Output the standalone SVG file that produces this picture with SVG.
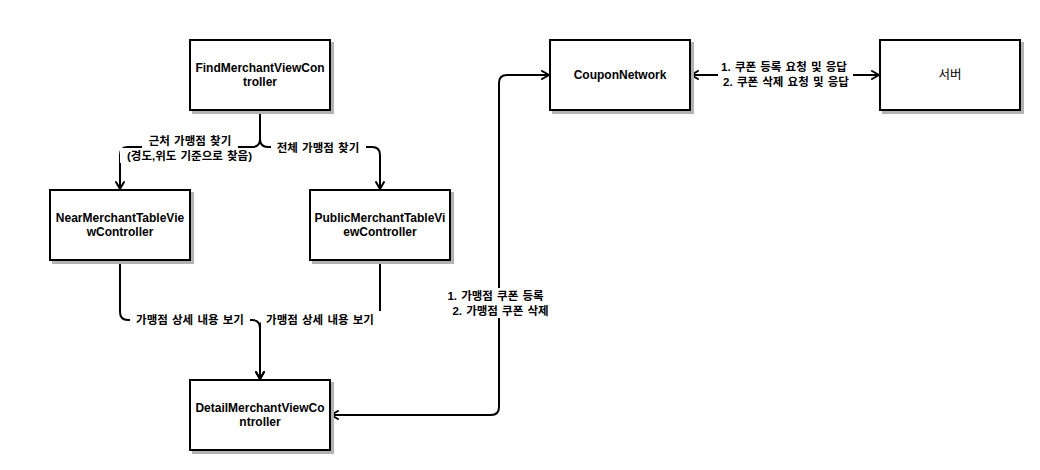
<svg xmlns="http://www.w3.org/2000/svg" width="1040" height="470" viewBox="0 0 1040 470">
<defs>
<style>
.shadow{fill:#b3b3b3;stroke:#b3b3b3;stroke-width:2}
.box{fill:#ffffff;stroke:#000000;stroke-width:2}
.nt{font-family:"Liberation Sans","Noto Sans CJK KR",Arial,sans-serif;font-size:12px;font-weight:bold;fill:#000;text-anchor:middle}
.nk{font-family:"Liberation Sans","Noto Sans CJK KR",Arial,sans-serif;font-size:12.5px;font-weight:normal;fill:#000;text-anchor:middle}
.edge{fill:none;stroke:#000000;stroke-width:2}
.lbg{fill:#ffffff;stroke:none}
.lt{font-family:"Liberation Sans","Noto Sans CJK KR",Arial,sans-serif;font-size:11.5px;font-weight:bold;fill:#000;text-anchor:middle;word-spacing:1px}
</style>
<marker id="arr" viewBox="0 0 10 10" refX="9" refY="5" markerWidth="10" markerHeight="10" markerUnits="userSpaceOnUse" orient="auto-start-reverse">
<path d="M2,1 L9,5 L2,9" fill="none" stroke="#000" stroke-width="2" stroke-linecap="round" stroke-linejoin="miter"/>
</marker>
</defs>
<rect width="1040" height="470" fill="#ffffff"/>

<g id="connectors">
<path class="edge" d="M260,110 V139 Q260,147 252,147 H128 Q120,147 120,155 V189" marker-end="url(#arr)"/>
<path class="edge" d="M260,110 V139 Q260,147 268,147 H372 Q380,147 380,155 V189" marker-end="url(#arr)"/>
<path class="edge" d="M120,260 V312 Q120,320 128,320 H252 Q260,320 260,328 V379" marker-end="url(#arr)"/>
<path class="edge" d="M380,260 V312 Q380,320 372,320 H268 Q260,320 260,328 V379" marker-end="url(#arr)"/>
<path class="edge" d="M331,415 H491 Q499,415 499,407 V83 Q499,75 507,75 H549" marker-start="url(#arr)" marker-end="url(#arr)"/>
<path class="edge" d="M691,75 H879" marker-start="url(#arr)" marker-end="url(#arr)"/>

<g id="label-near">
<rect class="lbg" x="142" y="134" width="96" height="14"/>
<rect class="lbg" x="120" y="148" width="139" height="15"/>
<text class="lt" x="190" y="145">근처 가맹점 찾기</text>
<text class="lt" x="189.5" y="160">(경도,위도 기준으로 찾음)</text>
</g>
<g id="label-all">
<rect class="lbg" x="271" y="141" width="95" height="15"/>
<text class="lt" x="318" y="152">전체 가맹점 찾기</text>
</g>
<g id="label-detail1">
<rect class="lbg" x="130" y="311" width="120" height="17"/>
<text class="lt" x="190" y="324">가맹점 상세 내용 보기</text>
</g>
<g id="label-detail2">
<rect class="lbg" x="261" y="311" width="120" height="17"/>
<text class="lt" x="320" y="324">가맹점 상세 내용 보기</text>
</g>
<g id="label-coupon">
<rect class="lbg" x="442" y="288" width="107" height="14"/>
<rect class="lbg" x="447" y="302" width="107" height="16"/>
<text class="lt" x="495.5" y="300">1. 가맹점 쿠폰 등록</text>
<text class="lt" x="500.5" y="315">2. 가맹점 쿠폰 삭제</text>
</g>
<g id="label-server">
<rect class="lbg" x="715" y="60" width="138" height="14"/>
<rect class="lbg" x="718" y="74" width="135" height="15"/>
<text class="lt" x="784" y="71">1. 쿠폰 등록 요청 및 응답</text>
<text class="lt" x="786" y="86">2. 쿠폰 삭제 요청 및 응답</text>
</g>
</g>

<g id="node-find">
<rect class="shadow" x="193" y="43" width="140" height="70"/>
<rect class="box" x="190" y="40" width="140" height="70"/>
<text class="nt" x="260" y="72">FindMerchantViewCon</text>
<text class="nt" x="260" y="86">troller</text>
</g>
<g id="node-near">
<rect class="shadow" x="53" y="193" width="140" height="70"/>
<rect class="box" x="50" y="190" width="140" height="70"/>
<text class="nt" x="120" y="222">NearMerchantTableVie</text>
<text class="nt" x="120" y="236">wController</text>
</g>
<g id="node-public">
<rect class="shadow" x="313" y="193" width="140" height="70"/>
<rect class="box" x="310" y="190" width="140" height="70"/>
<text class="nt" x="380" y="222">PublicMerchantTableVi</text>
<text class="nt" x="380" y="236">ewController</text>
</g>
<g id="node-detail">
<rect class="shadow" x="193" y="383" width="140" height="70"/>
<rect class="box" x="190" y="380" width="140" height="70"/>
<text class="nt" x="260" y="412">DetailMerchantViewCo</text>
<text class="nt" x="260" y="426">ntroller</text>
</g>
<g id="node-coupon">
<rect class="shadow" x="553" y="43" width="140" height="70"/>
<rect class="box" x="550" y="40" width="140" height="70"/>
<text class="nt" x="620" y="79">CouponNetwork</text>
</g>
<g id="node-server">
<rect class="shadow" x="883" y="43" width="140" height="70"/>
<rect class="box" x="880" y="40" width="140" height="70"/>
<text class="nk" x="950" y="79">서버</text>
</g>
</svg>
